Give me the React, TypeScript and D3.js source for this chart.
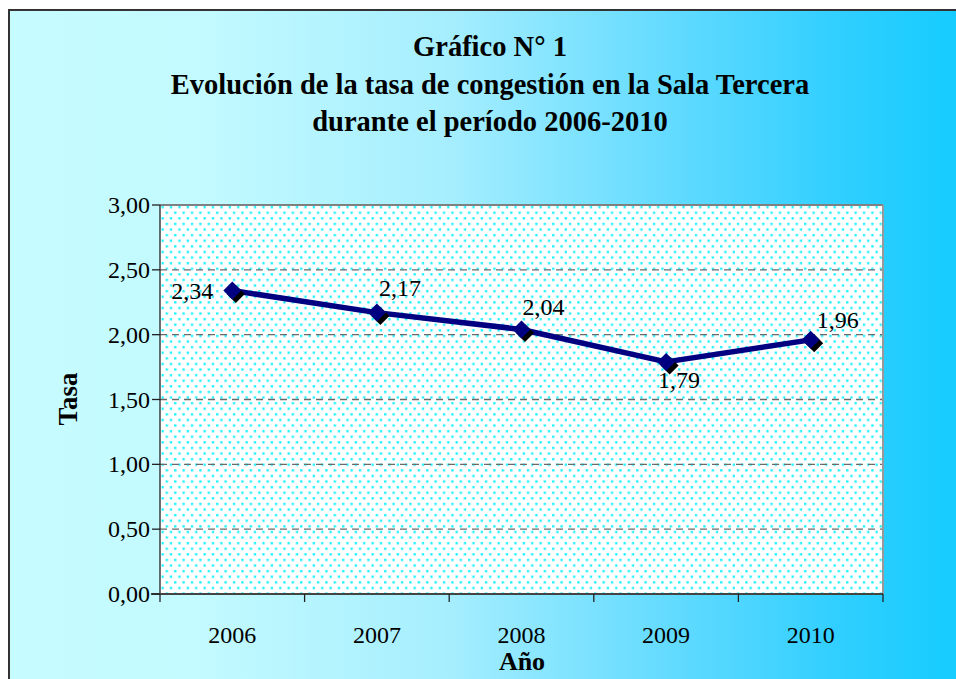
import React from "react";
import * as d3 from "d3";

const years = ["2006", "2007", "2008", "2009", "2010"];
const tasa = [2.34, 2.17, 2.04, 1.79, 1.96];
const yTicks = [0, 0.5, 1, 1.5, 2, 2.5, 3];
const titleLines = [
  "Gráfico N° 1",
  "Evolución de la tasa de congestión en la Sala Tercera",
  "durante el período 2006-2010",
];
// label placement: dx (center), dy (baseline) relative to point
const labelPos = [
  { dx: -40, dy: 8 },
  { dx: 23, dy: -17 },
  { dx: 22, dy: -14 },
  { dx: 13, dy: 26 },
  { dx: 27, dy: -12 },
];

const W = 956;
const H = 679;
const plot = { left: 160, top: 205, right: 883, bottom: 594 };
const serif = "'Liberation Serif', 'Times New Roman', serif";

export default function App() {
  const x = d3
    .scaleBand<string>()
    .domain(years)
    .range([plot.left, plot.right])
    .padding(0);
  const y = d3.scaleLinear().domain([0, 3]).range([plot.bottom, plot.top]);
  const cx = (d: string) => (x(d) as number) + x.bandwidth() / 2;
  const line = d3
    .line<number>()
    .x((_, i) => cx(years[i]))
    .y((v) => y(v));
  const fmt = (v: number) => v.toFixed(2).replace(".", ",");
  const diamond = (px: number, py: number, r: number) =>
    `M${px},${py - r}L${px + r},${py}L${px},${py + r}L${px - r},${py}Z`;
  const xTickPos = [...years.map((d) => x(d) as number), plot.right];

  return (
    <svg
      width={W}
      height={H}
      style={{ position: "absolute", left: 0, top: 0 }}
      fontFamily={serif}
    >
      <defs>
        <linearGradient id="bg" x1="0" x2="1" y1="0" y2="0">
          <stop offset="0" stopColor="#c7fcff" />
          <stop offset="0.2" stopColor="#c2faff" />
          <stop offset="0.45" stopColor="#a6eefe" />
          <stop offset="0.7" stopColor="#5cd9ff" />
          <stop offset="0.85" stopColor="#30cfff" />
          <stop offset="1" stopColor="#10cbff" />
        </linearGradient>
        <pattern
          id="dots"
          patternUnits="userSpaceOnUse"
          width={8.4}
          height={11.2}
          x={plot.left}
          y={plot.top}
        >
          <rect width={8.4} height={11.2} fill="#ffffff" />
          <rect x={1.5} y={1} width={2.3} height={2.3} fill="#18f0ff" />
          <rect x={5.7} y={6.6} width={2.3} height={2.3} fill="#18f0ff" />
        </pattern>
      </defs>
      <rect x={0} y={0} width={W} height={H} fill="#ffffff" />
      <rect
        x={9}
        y={10}
        width={W + 20}
        height={H + 20}
        fill="url(#bg)"
        stroke="#333"
        strokeWidth={2}
      />
      {titleLines.map((t, i) => (
        <text
          key={i}
          x={490}
          y={56 + i * 37.5}
          textAnchor="middle"
          fontWeight="bold"
          fontSize={28.5}
          fill="#000"
        >
          {t}
        </text>
      ))}
      <rect
        x={plot.left}
        y={plot.top}
        width={plot.right - plot.left}
        height={plot.bottom - plot.top}
        fill="url(#dots)"
      />
      {yTicks.slice(1, -1).map((t) => (
        <line
          key={t}
          x1={plot.left}
          x2={plot.right}
          y1={y(t)}
          y2={y(t)}
          stroke="#6a6a6a"
          strokeWidth={1.3}
          strokeDasharray="7,5"
        />
      ))}
      <line x1={plot.left} x2={plot.right} y1={plot.top} y2={plot.top} stroke="#808080" strokeWidth={2} />
      <line x1={plot.right} x2={plot.right} y1={plot.top} y2={plot.bottom} stroke="#999" strokeWidth={2} />
      <line x1={plot.left} x2={plot.left} y1={plot.top} y2={plot.bottom} stroke="#222" strokeWidth={1.3} />
      <line x1={plot.left - 9} x2={plot.right} y1={plot.bottom} y2={plot.bottom} stroke="#444" strokeWidth={2} />
      {yTicks.map((t) => (
        <g key={t}>
          <line x1={plot.left - 8} x2={plot.left} y1={y(t)} y2={y(t)} stroke="#222" strokeWidth={1.3} />
          <text
            x={plot.left - 10}
            y={y(t) + 8}
            textAnchor="end"
            fontSize={24}
            fill="#000"
          >
            {fmt(t)}
          </text>
        </g>
      ))}
      {xTickPos.map((p, i) => (
        <line key={i} x1={p} x2={p} y1={plot.bottom} y2={plot.bottom + 8} stroke="#222" strokeWidth={1.3} />
      ))}
      {years.map((d) => (
        <text key={d} x={cx(d)} y={643} textAnchor="middle" fontSize={24} fill="#000">
          {d}
        </text>
      ))}
      <text x={522} y={670} textAnchor="middle" fontWeight="bold" fontSize={26} fill="#000">
        Año
      </text>
      <text
        transform={`translate(77,399) rotate(-90)`}
        textAnchor="middle"
        fontWeight="bold"
        fontSize={27}
        fill="#000"
      >
        Tasa
      </text>
      <path d={line(tasa) as string} fill="none" stroke="#000080" strokeWidth={5.5} strokeLinejoin="round" />
      {tasa.map((v, i) => (
        <g key={i}>
          <path d={diamond(cx(years[i]) + 3.5, y(v) + 3.5, 9)} fill="#000" />
          <path d={diamond(cx(years[i]), y(v), 9)} fill="#000080" />
        </g>
      ))}
      {tasa.map((v, i) => (
        <text
          key={"l" + i}
          x={cx(years[i]) + labelPos[i].dx}
          y={y(v) + labelPos[i].dy}
          textAnchor="middle"
          fontSize={24}
          fill="#000"
        >
          {fmt(v)}
        </text>
      ))}
    </svg>
  );
}
